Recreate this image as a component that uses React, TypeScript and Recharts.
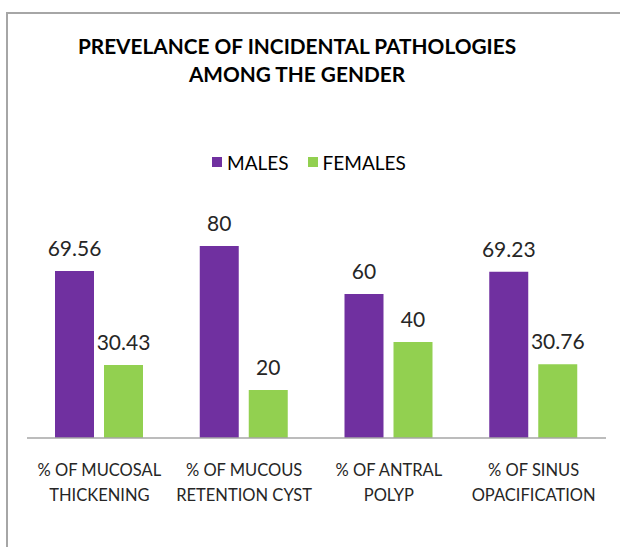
import React from 'react'
import { BarChart, Bar, XAxis, YAxis, LabelList } from 'recharts'

const categories = [
  '% OF MUCOSAL\nTHICKENING',
  '% OF MUCOUS\nRETENTION CYST',
  '% OF ANTRAL\nPOLYP',
  '% OF SINUS\nOPACIFICATION',
]
const males = [69.56, 80, 60, 69.23]
const females = [30.43, 20, 40, 30.76]

const series = [
  { key: 'males', name: 'MALES', color: '#7030A0' },
  { key: 'females', name: 'FEMALES', color: '#92D050' },
]

const data = categories.map((c, i) => ({ category: c, males: males[i], females: females[i] }))

const FONT = 'Lato, "Open Sans", sans-serif'

const CategoryTick = (props: any) => {
  const { x, y, payload } = props
  const lines = String(payload.value).split('\n')
  return (
    <text x={x} y={y} textAnchor="middle" fill="#262626" fontSize={16.5} fontFamily={FONT}>
      {lines.map((l, i) => (
        <tspan key={i} x={x} dy={i === 0 ? 30 : 25}>{l}</tspan>
      ))}
    </text>
  )
}

const App: React.FC = () => {
  return (
    <div style={{ position: 'absolute', left: 0, top: 0, width: 620, height: 547, overflow: 'hidden', background: '#fff' }}>
      <div style={{ position: 'absolute', left: 6, top: 12, width: 700, height: 700, borderLeft: '2px solid #a6a6a6', borderTop: '2px solid #a6a6a6' }} />
      <div style={{ position: 'absolute', left: 0, top: 32, width: 594, textAlign: 'center', fontFamily: FONT, fontWeight: 700, fontSize: 20.8, lineHeight: '28px', color: '#000' }}>
        PREVELANCE OF INCIDENTAL PATHOLOGIES<br />AMONG THE GENDER
      </div>
      <div style={{ position: 'absolute', left: 212, top: 150, height: 24, display: 'flex', alignItems: 'center', fontFamily: FONT, fontSize: 19, color: '#000' }}>
        {series.map((s, i) => (
          <div key={s.key} style={{ display: 'flex', alignItems: 'center', marginRight: i === 0 ? 19 : 0 }}>
            <span style={{ display: 'inline-block', width: 10, height: 10, background: s.color, marginRight: 5 }} />
            <span>{s.name}</span>
          </div>
        ))}
      </div>
      <div style={{ position: 'absolute', left: 0, top: 0 }}>
        <BarChart width={620} height={547} data={data} margin={{ top: 198, right: 14, bottom: 39, left: 27 }} barGap={10} barCategoryGap="20%">
          <XAxis dataKey="category" height={70} tickLine={false} axisLine={{ stroke: '#a6a6a6', strokeWidth: 1.5 }} tick={<CategoryTick />} interval={0} />
          <YAxis hide domain={[0, 100]} />
          {series.map((s) => (
            <Bar key={s.key} dataKey={s.key} name={s.name} fill={s.color} barSize={39} isAnimationActive={false}>
              <LabelList dataKey={s.key} position="top" offset={15} fill="#262626" fontSize={21} fontFamily={FONT} />
            </Bar>
          ))}
        </BarChart>
      </div>
    </div>
  )
}

export default App
